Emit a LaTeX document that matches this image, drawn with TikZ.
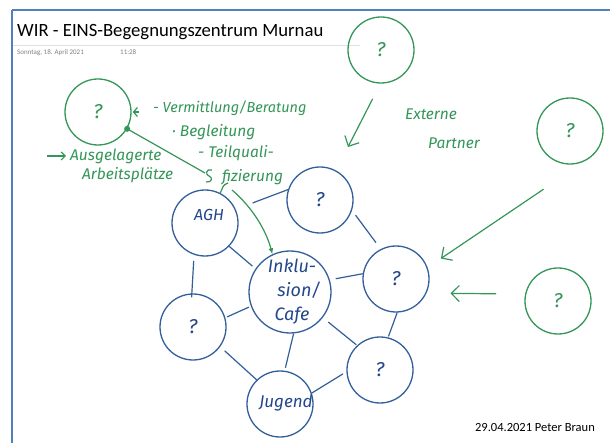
\documentclass[tikz,border=0pt]{standalone}
\usepackage{fontspec}
\newfontfamily\calib{Carlito}
\newfontfamily\handf{Fira Sans}
\usetikzlibrary{arrows.meta}
\definecolor{hgreen}{RGB}{52,150,88}
\definecolor{hblue}{RGB}{50,95,155}
\definecolor{tblue}{RGB}{35,70,140}
\definecolor{frameblue}{RGB}{79,129,189}
\tikzset{
  gcirc/.style={circle, draw=hgreen, line width=1.3pt, minimum size=66pt, inner sep=0pt, text=hgreen, font=\handf\itshape\fontsize{20}{20}\selectfont},
  bcirc/.style={circle, draw=hblue, line width=1.3pt, minimum size=66pt, inner sep=0pt, text=tblue, font=\handf\itshape\fontsize{20}{20}\selectfont},
  link/.style={draw=hblue, line width=1.2pt},
  garrow/.style={draw=hgreen, line width=1.2pt, -{Straight Barb[length=8pt,width=16pt]}},
  gline/.style={draw=hgreen, line width=1.2pt},
  hand/.style={text=hgreen, font=\handf\itshape\fontsize{15.5}{15.5}\selectfont, inner sep=0pt},
  btext/.style={text=tblue, font=\handf\itshape\fontsize{18}{24}\selectfont, inner sep=0pt, align=center},
}
\begin{document}
\begin{tikzpicture}[x=1pt, y=-1pt]
\fill[white] (0,0) rectangle (610,443);
\useasboundingbox (0,0) rectangle (610,443);
% frame and header
\draw[frameblue, line width=1.6pt] (12,10) -- (610,10);
\draw[frameblue, line width=2pt] (12,10) -- (12,443);
\draw[black!12, line width=0.6pt] (13,45) -- (360,45);
\node[anchor=base west, font=\calib\fontsize{18.7}{18.7}\selectfont, inner sep=0pt] (title) at (17,37) {WIR - EINS-Begegnungszentrum Murnau};
\node[anchor=base west, font=\calib\fontsize{7}{7}\selectfont, text=black!50, inner sep=0pt] (date) at (17,55) {Sonntag, 18. April 2021};
\node[anchor=base west, font=\calib\fontsize{7}{7}\selectfont, text=black!50, inner sep=0pt] (time) at (120,55) {11:28};
\node[anchor=base east, font=\calib\fontsize{12.5}{12.5}\selectfont, inner sep=0pt] (foot) at (595,431) {29.04.2021 Peter Braun};

% green circles
\node[gcirc] (g1) at (98,112) {?};
\node[gcirc] (g2) at (381,50) {?};
\node[gcirc] (g3) at (570,131) {?};
\node[gcirc] (g4) at (558,301) {?};

% blue circles
\node[bcirc] (agh) at (205,223) {};
\node[btext, font=\handf\itshape\fontsize{16}{16}\selectfont] (aghl) at (209,215) {AGH};
\node[bcirc] (q2) at (320,200) {?};
\node[bcirc, minimum size=82pt] (inkl) at (290,292) {};
\node[btext] (inkll) at (292,292) {Inklu-\\\ \ \ sion/\\Cafe};
\node[bcirc] (q3) at (396,279) {?};
\node[bcirc] (q4) at (193,327) {?};
\node[bcirc] (q5) at (380,370) {?};
\node[bcirc] (jug) at (280,404) {};
\node[btext, font=\handf\itshape\fontsize{17}{17}\selectfont] (jugl) at (286,403) {Jugend};

% blue links
\draw[link, shorten <=18pt] (agh.24) -- (q2.162);
\draw[link, shorten <=6pt, shorten >=8pt] (q2.-18) -- (q3.117);
\draw[link, shorten >=4pt] (agh.-44) -- (inkl.146);
\draw[link, shorten <=6pt, shorten >=-4pt] (agh.-109) -- (q4.92);
\draw[link, shorten <=6pt] (inkl.17) -- (q3.171);
\draw[link, shorten <=2pt, shorten >=2pt] (q4.16) -- (inkl.200);
\draw[link, shorten <=7pt, shorten >=1pt] (inkl.-38) -- (q5.133);
\draw[link, shorten >=3pt] (inkl.-85) -- (jug.82);
\draw[link, shorten <=6pt] (q4.-36) -- (jug.134);
\draw[link, shorten >=4pt] (jug.19) -- (q5.183);
\draw[link, shorten <=1pt] (q5.76) -- (q3.-88);

% green texts
\node[hand, anchor=west, font=\handf\itshape\fontsize{14.5}{14.5}\selectfont] (verm) at (153,108) {- Vermittlung/Beratung};
\node[hand, anchor=west] (begl) at (172,132) {· Begleitung};
\node[hand, anchor=west] (teil) at (198,153) {- Teilquali-};
\node[hand, anchor=west] (fiz) at (222,177) {fizierung};
\node[hand, anchor=west] (ausg) at (70,156) {Ausgelagerte};
\node[hand, anchor=west] (arb) at (82,175) {Arbeitsplätze};
\node[hand] (ext) at (431,114) {Externe};
\node[hand] (part) at (454,143) {Partner};

% green arrows
\coordinate (g2end) at (348,147);
\draw[garrow, shorten <=17pt] (g2.-91) -- (g2end);
\draw[garrow, shorten <=51pt, shorten >=16pt] (g3.-62) -- (q3.20);
\draw[garrow, shorten <=29pt, shorten >=24pt] (g4.168) -- (q3.-25);
\draw[gline, -{Straight Barb[length=4pt,width=9pt]}] ([xshift=7pt]g1.0) -- ([xshift=1pt]g1.0);
\draw[gline, -{Straight Barb[length=4pt,width=8pt]}] ([xshift=-23pt]ausg.west) -- ([xshift=-4pt]ausg.west);

% connection from g1 towards the squiggle
\fill[hgreen] (g1.-30) circle (3pt);
\coordinate (send) at (205,173);
\draw[gline] (g1.-30) -- (send);
\draw[gline] (212,170) .. controls (206,168) and (205,175) .. (209,176) .. controls (213,177) and (212,183) .. (206,182);

% hook from AGH to fizierung and arrow to Inklusion
\draw[gline] (agh.63) .. controls (223,188) and (222,185) .. (228,183);
\coordinate (fizs) at (232,190);
\draw[gline, -{Latex[length=6pt,width=5pt]}] (fizs) .. controls (252,207) and (266,230) .. (inkl.115);
\end{tikzpicture}
\end{document}
